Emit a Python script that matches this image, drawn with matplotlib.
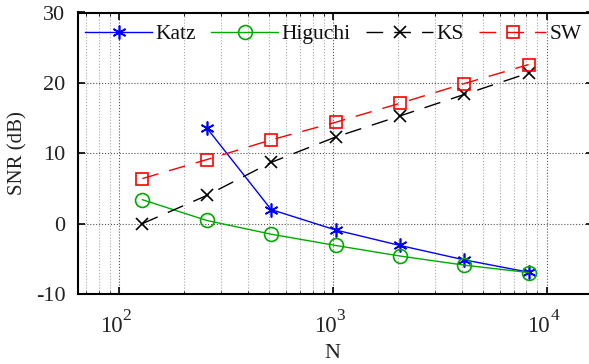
import matplotlib
matplotlib.use("Agg")
import matplotlib.pyplot as plt
from matplotlib.transforms import offset_copy
import numpy as np

N = [128, 256, 512, 1024, 2048, 4096, 8192]
katz_N = [256, 512, 1024, 2048, 4096, 8192]
katz = [13.6, 2.0, -0.9, -3.1, -5.15, -6.9]
higuchi = [3.4, 0.45, -1.5, -3.1, -4.6, -5.9, -6.95]
ks = [0.0, 4.0, 8.7, 12.3, 15.3, 18.35, 21.4]
sw = [6.4, 9.1, 11.9, 14.4, 17.1, 19.9, 22.6]
x_decades = [2, 3, 4]

plt.rcParams['font.family'] = ['Liberation Serif', 'DejaVu Serif']
plt.rcParams['axes.unicode_minus'] = False

fig = plt.figure(figsize=(5.89, 3.64), dpi=100)
ax = fig.add_axes([78/589, 1-294/364, (593-78)/589, (294-12.5)/364])

ax.plot(katz_N, katz, color='#0000ff', lw=1, marker=(6, 2, 0), ms=10, mew=1.2, label='Katz')
ax.plot(N, higuchi, color='#00aa00', lw=1, marker='o', ms=10, mfc='none', mew=1.2, label='Higuchi')
ax.plot(N, ks, color='black', lw=1, ls=(0, (12, 8)), marker='x', ms=8, mew=1.2, label='KS')
ax.plot(N, sw, color='#ff0000', lw=1, ls=(0, (12, 8)), marker='s', ms=9, mfc='none', mew=1.2, label='SW')

ax.set_xscale('log')
ax.set_xlim(64, 16384)
ax.set_ylim(-10, 30)
ax.set_yticks([-10, 0, 10, 20, 30])
ax.grid(True, which='major', ls=':', color='#555555', lw=0.8)
ax.grid(True, which='minor', axis='x', ls=':', color='#aaaaaa', lw=0.8)
ax.tick_params(which='both', direction='in', top=True, right=True, labelsize=16,
               labelcolor='#222222')
ax.tick_params(which='major', length=5, width=1.2)
ax.tick_params(which='minor', length=2.5)
ax.tick_params(axis='x', which='both', labelbottom=False)
ax.tick_params(axis='y', which='major', pad=9)
for s in ax.spines.values():
    s.set_linewidth(1.5)
ax.spines['right'].set_visible(False)

# decade tick labels with large superscripts
base_tr = ax.get_xaxis_transform()
for d in x_decades:
    tr_b = offset_copy(base_tr, fig=fig, x=3, y=-37.5, units='dots')
    ax.text(10**d, 0, '10', transform=tr_b, ha='right', va='baseline', fontsize=16.5, color='#222222')
    tr_e = offset_copy(base_tr, fig=fig, x=3, y=-25.5, units='dots')
    ax.text(10**d, 0, str(d), transform=tr_e, ha='left', va='baseline', fontsize=12.5, color='#222222')

ax.set_xlabel('N', fontsize=16, color='#222222')
ax.xaxis.set_label_coords(0.493, -0.178)
ax.set_ylabel('SNR (dB)', fontsize=15, labelpad=6, color='#222222')

leg = ax.legend(ncol=4, loc='upper left', bbox_to_anchor=(-0.009, 1.0), frameon=False,
                fontsize=15.5, handlelength=3.1, columnspacing=0.73, handletextpad=0.15,
                borderaxespad=0.15)
for t in leg.get_texts():
    t.set_color('#111111')

fig.savefig('out.png', dpi=100)
